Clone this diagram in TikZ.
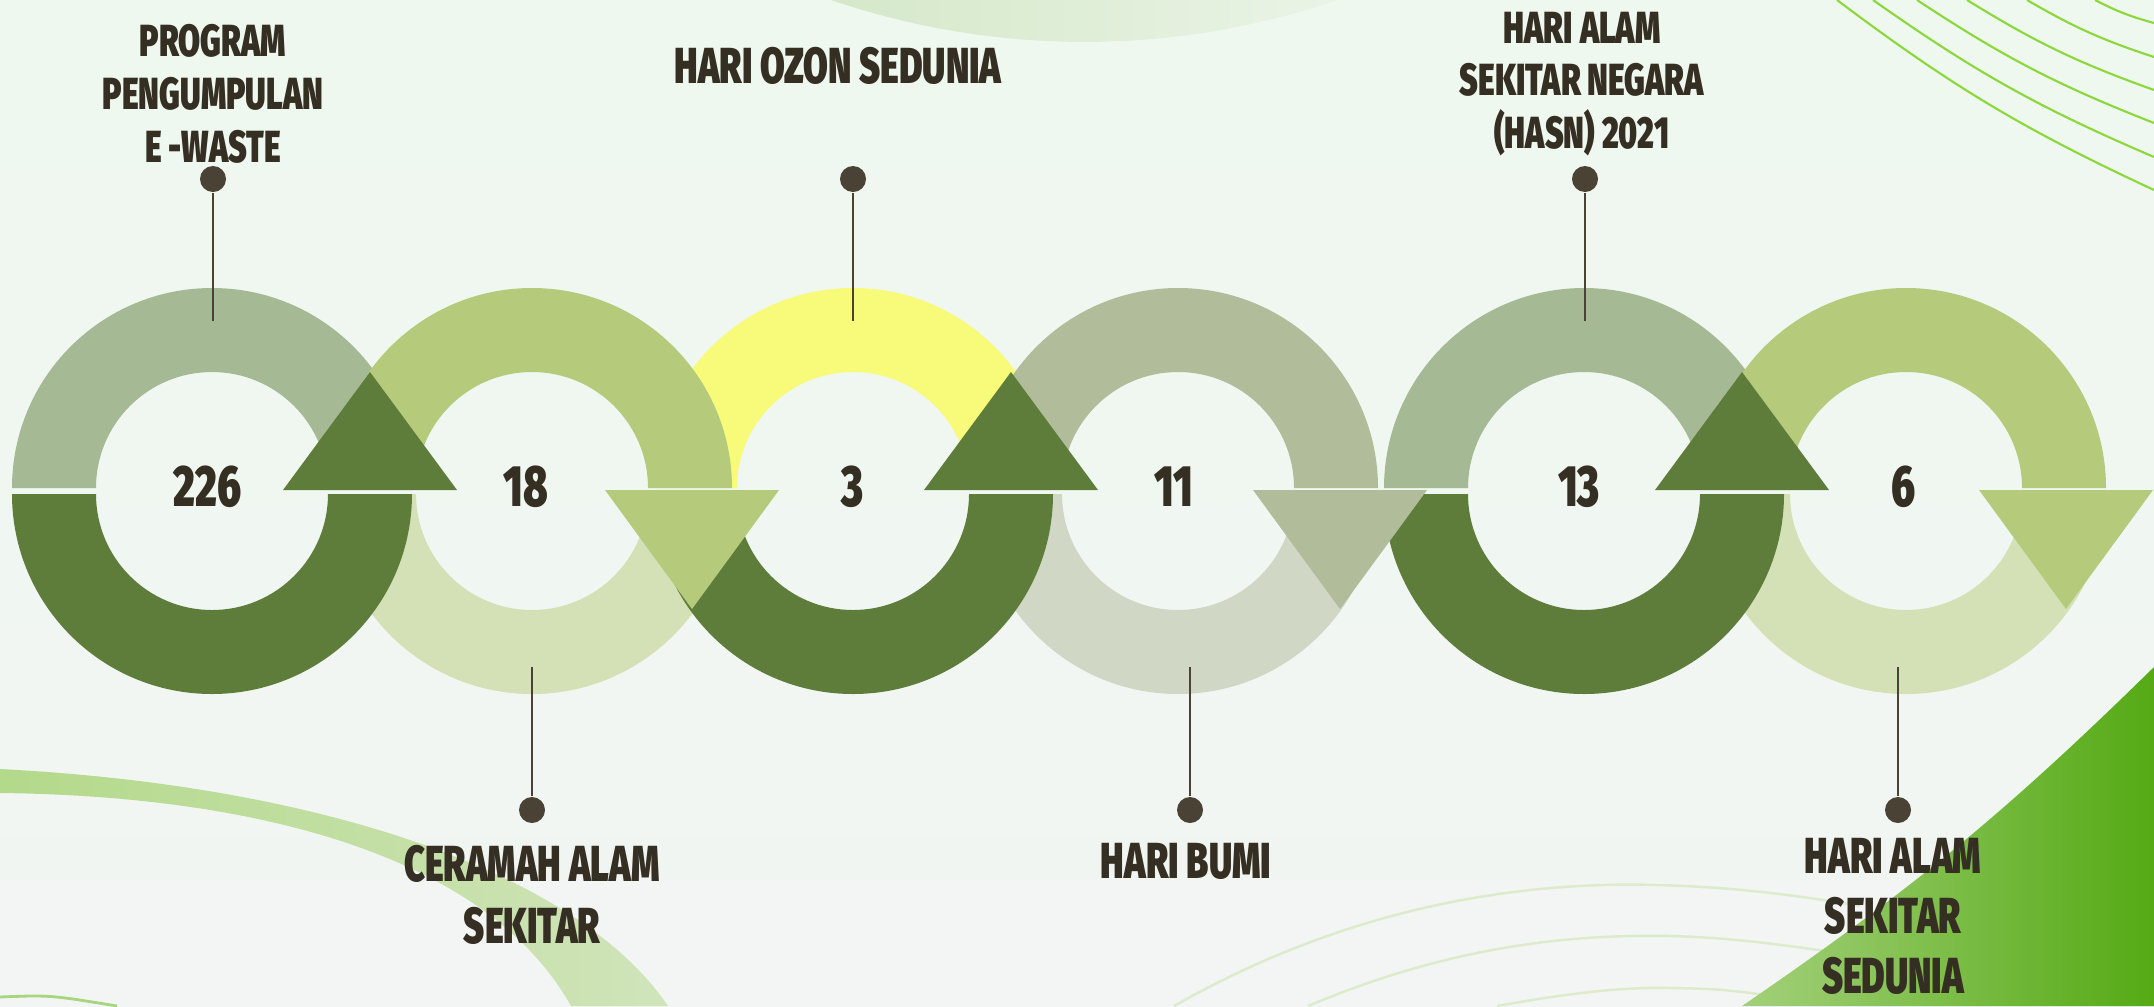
\documentclass[tikz,border=0pt]{standalone}
\usepackage{fontspec}
\newfontfamily\labelfont{Fira Sans}[UprightFont={* Black},FakeStretch=0.71]
\definecolor{bgtop}{HTML}{EEF8EF}
\definecolor{bgbottom}{HTML}{F2F5F3}
\definecolor{darkgreen}{HTML}{5F7D3A}
\definecolor{sage}{HTML}{A6B995}
\definecolor{olive}{HTML}{B5CA7A}
\definecolor{paleolive}{HTML}{D4E0B5}
\definecolor{lemon}{HTML}{F8FA7A}
\definecolor{greige}{HTML}{B0BC9A}
\definecolor{palegreige}{HTML}{D0D7C5}
\definecolor{ink}{HTML}{352E22}
\definecolor{pin}{HTML}{4A4335}
\definecolor{swirl}{HTML}{8AD83A}
\definecolor{faint}{HTML}{DCEBCB}
\definecolor{blobleft}{HTML}{D5E8C9}
\definecolor{blobright}{HTML}{EAF4E6}
\definecolor{bandleft}{HTML}{B3D98A}
\definecolor{bandright}{HTML}{D0E4BA}
\definecolor{thinarc}{HTML}{A8D67E}
\definecolor{fieldleft}{HTML}{A3D07A}
\definecolor{fieldright}{HTML}{55AA15}
\begin{document}
\begin{tikzpicture}[
    pinline/.style={draw=pin, line width=0.8pt},
    pindot/.style={circle, fill=pin, inner sep=0pt, minimum size=0.26cm},
    number/.style={text=ink, inner sep=0pt, font=\labelfont\fontsize{16.6}{18}\selectfont},
    toplabel/.style={text=ink, inner sep=0pt, anchor=north, align=center,
        font=\labelfont\fontsize{12.8}{15}\selectfont},
    bottomlabel/.style={text=ink, inner sep=0pt, anchor=north, align=center,
        font=\labelfont\fontsize{14.4}{17.4}\selectfont},
    swirlline/.style={draw=swirl, line width=0.6pt},
    faintline/.style={draw=faint, line width=0.7pt}
]
    \shade[top color=bgtop, bottom color=bgbottom] (0,0) rectangle (21.54,10.06);
    \useasboundingbox (0,0) rectangle (21.54,10.06);

    % background shapes
    \shade[left color=blobleft, right color=blobright]
        (8.31,10.06) arc[start angle=251.2, end angle=288.8, radius=7.86] -- cycle;
    \draw[swirlline] (18.37,10.06) to[bend right=6] (21.54,8.16);
    \draw[swirlline] (18.73,10.06) to[bend right=6] (21.54,8.49);
    \draw[swirlline] (19.17,10.06) to[bend right=6] (21.54,8.83);
    \draw[swirlline] (19.67,10.06) to[bend right=6] (21.54,9.16);
    \draw[swirlline] (20.27,10.06) to[bend right=6] (21.54,9.49);
    \draw[swirlline] (20.95,10.06) to[bend right=6] (21.54,9.83);
    \shade[left color=bandleft, right color=bandright]
        (0,2.37) .. controls (3.3,2.2) and (5.8,1.3) .. (6.68,0) -- (5.71,0)
        .. controls (4.9,1.45) and (2.7,2.1) .. (0,2.13) -- cycle;
    \draw[draw=thinarc, line width=0.8pt] (0,0.09) .. controls (0.5,0.11) .. (1.17,0);
    \draw[faintline] (11.74,0) .. controls (13.5,1.0) and (15.2,1.25) .. (16.58,1.21)
        .. controls (17.3,1.19) and (17.9,1.12) .. (18.6,1.0);
    \draw[faintline] (13.08,0) .. controls (14.5,0.6) and (15.7,0.72) .. (16.71,0.70)
        .. controls (17.4,0.68) and (17.9,0.6) .. (18.6,0.5);
    \draw[faintline] (14.97,0) .. controls (15.8,0.15) and (16.3,0.19) .. (16.71,0.18)
        .. controls (17.2,0.17) .. (17.9,0.08);
    \shade[left color=fieldleft, right color=fieldright]
        (17.42,0) to[bend right=5] (21.54,3.39) -- (21.54,0) -- cycle;

    % lower halves
    \fill[paleolive] (5.32,5.12) ++(-2,0) arc[start angle=180, end angle=360, radius=2] -- ++(-0.84,0) arc[start angle=0, end angle=-180, radius=1.16] -- cycle;
    \fill[palegreige] (11.78,5.12) ++(-2,0) arc[start angle=180, end angle=360, radius=2] -- ++(-0.84,0) arc[start angle=0, end angle=-180, radius=1.16] -- cycle;
    \fill[paleolive] (19.06,5.12) ++(-2,0) arc[start angle=180, end angle=360, radius=2] -- ++(-0.84,0) arc[start angle=0, end angle=-180, radius=1.16] -- cycle;
    \fill[darkgreen] (2.12,5.12) ++(-2,0) arc[start angle=180, end angle=360, radius=2] -- ++(-0.84,0) arc[start angle=0, end angle=-180, radius=1.16] -- cycle;
    \fill[darkgreen] (8.53,5.12) ++(-2,0) arc[start angle=180, end angle=360, radius=2] -- ++(-0.84,0) arc[start angle=0, end angle=-180, radius=1.16] -- cycle;
    \fill[darkgreen] (15.84,5.12) ++(-2,0) arc[start angle=180, end angle=360, radius=2] -- ++(-0.84,0) arc[start angle=0, end angle=-180, radius=1.16] -- cycle;

    % upper halves
    \fill[sage] (2.12,5.18) ++(2,0) arc[start angle=0, end angle=180, radius=2] -- ++(0.84,0) arc[start angle=180, end angle=0, radius=1.16] -- cycle;
    \fill[lemon] (8.53,5.18) ++(2,0) arc[start angle=0, end angle=180, radius=2] -- ++(0.84,0) arc[start angle=180, end angle=0, radius=1.16] -- cycle;
    \fill[sage] (15.84,5.18) ++(2,0) arc[start angle=0, end angle=180, radius=2] -- ++(0.84,0) arc[start angle=180, end angle=0, radius=1.16] -- cycle;
    \fill[olive] (5.32,5.18) ++(2,0) arc[start angle=0, end angle=180, radius=2] -- ++(0.84,0) arc[start angle=180, end angle=0, radius=1.16] -- cycle;
    \fill[greige] (11.78,5.18) ++(2,0) arc[start angle=0, end angle=180, radius=2] -- ++(0.84,0) arc[start angle=180, end angle=0, radius=1.16] -- cycle;
    \fill[olive] (19.06,5.18) ++(2,0) arc[start angle=0, end angle=180, radius=2] -- ++(0.84,0) arc[start angle=180, end angle=0, radius=1.16] -- cycle;

    % arrow heads
    \fill[darkgreen] (3.70,6.34) -- ++(-0.87,-1.18) -- ++(1.74,0) -- cycle;
    \fill[olive] (6.92,3.97) -- ++(-0.87,1.19) -- ++(1.74,0) -- cycle;
    \fill[darkgreen] (10.11,6.34) -- ++(-0.87,-1.18) -- ++(1.74,0) -- cycle;
    \fill[greige] (13.40,3.97) -- ++(-0.87,1.19) -- ++(1.74,0) -- cycle;
    \fill[darkgreen] (17.42,6.34) -- ++(-0.87,-1.18) -- ++(1.74,0) -- cycle;
    \fill[olive] (20.66,3.97) -- ++(-0.87,1.19) -- ++(1.74,0) -- cycle;

    % counts
    \node[number] (n1) at (2.08,5.19) {226};
    \node[number] (n2) at (5.26,5.19) {18};
    \node[number] (n3) at (8.53,5.19) {3};
    \node[number] (n4) at (11.74,5.19) {11};
    \node[number] (n5) at (15.79,5.19) {13};
    \node[number] (n6) at (19.04,5.19) {6};

    % pins
    \node[pindot] (p1) at (2.13,8.27) {};
    \coordinate (e1) at (2.13,6.85);
    \draw[pinline] (p1) -- (e1);
    \node[pindot] (p3) at (8.53,8.27) {};
    \coordinate (e3) at (8.53,6.85);
    \draw[pinline] (p3) -- (e3);
    \node[pindot] (p5) at (15.85,8.27) {};
    \coordinate (e5) at (15.85,6.85);
    \draw[pinline] (p5) -- (e5);
    \node[pindot] (p2) at (5.32,1.96) {};
    \coordinate (e2) at (5.32,3.39);
    \draw[pinline] (p2) -- (e2);
    \node[pindot] (p4) at (11.90,1.96) {};
    \coordinate (e4) at (11.90,3.39);
    \draw[pinline] (p4) -- (e4);
    \node[pindot] (p6) at (18.98,1.96) {};
    \coordinate (e6) at (18.98,3.39);
    \draw[pinline] (p6) -- (e6);

    % labels
    \node[toplabel] (l1) at (2.13,9.82) {PROGRAM\\PENGUMPULAN\\E -WASTE};
    \node[bottomlabel] (l3) at (8.38,9.59) {HARI OZON SEDUNIA};
    \node[toplabel] (l5) at (15.82,9.95) {HARI ALAM\\SEKITAR NEGARA\\(HASN) 2021};
    \node[bottomlabel] (l2) at (5.32,1.61) {CERAMAH ALAM\\SEKITAR};
    \node[bottomlabel] (l4) at (11.86,1.63) {HARI BUMI};
    \node[bottomlabel, font=\labelfont\fontsize{14.4}{17}\selectfont] (l6) at (18.93,1.68) {HARI ALAM\\SEKITAR\\SEDUNIA};
\end{tikzpicture}
\end{document}
